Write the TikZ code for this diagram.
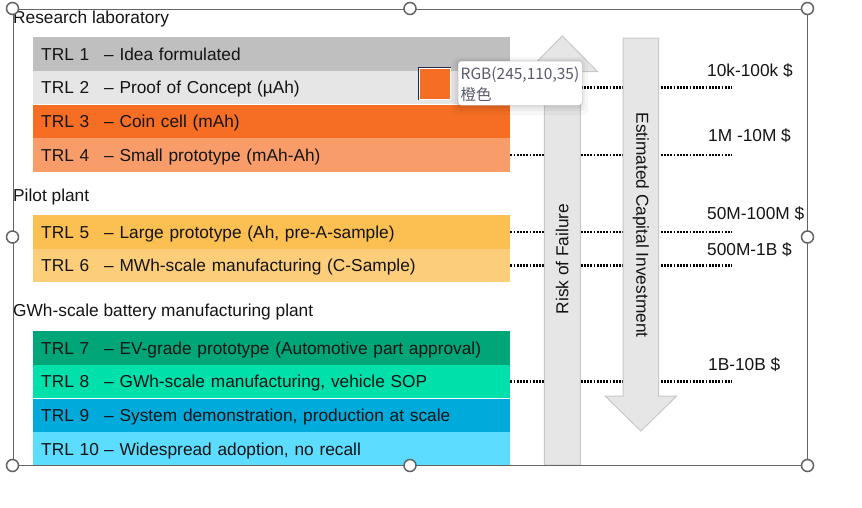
\documentclass[tikz,border=0pt]{standalone}
\usepackage{fontspec}
\setmainfont{Liberation Sans}
\newfontfamily\cjk{Noto Sans CJK SC}
\usepackage{xcolor}
\usepackage{tikz}
\usetikzlibrary{positioning}

\definecolor{ink}{RGB}{20,20,20}
\definecolor{grey1}{RGB}{191,191,191}
\definecolor{grey2}{RGB}{230,230,230}
\definecolor{orange1}{RGB}{245,110,35}
\definecolor{orange2}{RGB}{248,157,106}
\definecolor{yellow1}{RGB}{251,191,82}
\definecolor{yellow2}{RGB}{252,206,122}
\definecolor{green1}{RGB}{0,166,120}
\definecolor{green2}{RGB}{0,224,170}
\definecolor{blue1}{RGB}{0,171,220}
\definecolor{blue2}{RGB}{92,220,255}
\definecolor{arrowfill}{RGB}{230,230,230}
\definecolor{arrowline}{RGB}{200,200,200}
\definecolor{framegrey}{RGB}{100,100,100}
\definecolor{tipgrey}{RGB}{90,90,110}
\definecolor{swatchline}{RGB}{40,40,70}

\newcommand{\trlrow}[2]{\makebox[63pt][l]{TRL #1}– #2}

\begin{document}
\begin{tikzpicture}[x=1pt, y=-1pt,
			every node/.style={font=\fontsize{17.3}{20}\selectfont, text=ink},
			heading/.style={anchor=base west, inner sep=0pt},
			row/.style={rectangle, anchor=north west, inner xsep=8pt, inner ysep=0pt, text width=461pt, minimum height=33.3pt, text height=12.4pt, text depth=0pt, align=left},
			dots/.style={line width=2.3pt, dash pattern=on 1.8pt off 1.4pt, black},
			cost/.style={anchor=base west, inner sep=0pt},
			bigarrow/.style={fill=arrowfill, draw=arrowline, line width=1pt},
			axis/.style={inner sep=0pt},
			selframe/.style={rectangle, draw=framegrey, line width=1pt, minimum width=794pt, minimum height=456pt, inner sep=0pt},
			handle/.style={circle, draw=framegrey, line width=1.5pt, fill=white, minimum size=12pt, inner sep=0pt},
			tipbox/.style={rectangle, rounded corners=3pt, draw=black!22, fill=white, anchor=north west, minimum width=124pt, minimum height=44pt, inner sep=0pt},
			tiptext/.style={anchor=base west, inner sep=0pt, font=\cjk\fontsize{15.5}{18}\selectfont, text=tipgrey},
			swatch/.style={rectangle, anchor=north west, minimum size=31.7pt, inner sep=0pt, fill=orange1, draw=swatchline, line width=1.2pt}
		]
		\useasboundingbox (0,0) rectangle (862,507);

		% Research laboratory
		\node[heading] (lab) at (13,23) {Research laboratory};
		\node[row, fill=grey1] (trl1) at (33,37) {\trlrow{1}{Idea formulated}};
		\node[row, fill=grey2, below=0pt of trl1] (trl2) {\trlrow{2}{Proof of Concept (µAh)}};
		\node[row, fill=orange1, below=0pt of trl2] (trl3) {\trlrow{3}{Coin cell (mAh)}};
		\node[row, fill=orange2, below=0pt of trl3] (trl4) {\trlrow{4}{Small prototype (mAh-Ah)}};

		% Pilot plant
		\node[heading] (pilot) at (13,201.5) {Pilot plant};
		\node[row, fill=yellow1] (trl5) at (33,215) {\trlrow{5}{Large prototype (Ah, pre-A-sample)}};
		\node[row, fill=yellow2, below=0pt of trl5] (trl6) {\trlrow{6}{MWh-scale manufacturing (C-Sample)}};

		% GWh plant
		\node[heading] (gwh) at (13,316.5) {GWh-scale battery manufacturing plant};
		\node[row, fill=green1] (trl7) at (33,331) {\trlrow{7}{EV-grade prototype (Automotive part approval)}};
		\node[row, fill=green2, below=0pt of trl7] (trl8) {\trlrow{8}{GWh-scale manufacturing, vehicle SOP}};
		\node[row, fill=blue1, below=0pt of trl8] (trl9) {\trlrow{9}{System demonstration, production at scale}};
		\node[row, fill=blue2, below=0pt of trl9] (trl10) {\trlrow{10}{Widespread adoption, no recall}};

		% Cost levels
		\coordinate (cap) at (732,0);
		\draw[dots] (trl2.east) -- (trl2.east -| cap);
		\draw[dots] (trl4.east) -- (trl4.east -| cap);
		\draw[dots] (trl5.east) -- (trl5.east -| cap);
		\draw[dots] (trl6.east) -- (trl6.east -| cap);
		\draw[dots] (trl8.east) -- (trl8.east -| cap);
		\node[cost] (cost2) at (707,76) {10k-100k \$};
		\node[cost] (cost4) at (708,141.5) {1M -10M \$};
		\node[cost] (cost5) at (707,219) {50M-100M \$};
		\node[cost] (cost6) at (707,255) {500M-1B \$};
		\node[cost] (cost8) at (708,370.5) {1B-10B \$};

		% Big arrows
		\draw[bigarrow] (544.3,465) -- (544.3,71.7) -- (527,71.7) -- (562.3,36) -- (597.6,71.7) -- (580.3,71.7) -- (580.3,465) -- cycle;
		\node[axis, rotate=90] (risk) at (562.3,259) {Risk of Failure};
		\draw[bigarrow] (623,38) -- (623,396) -- (605,396) -- (640.9,431) -- (676.7,396) -- (658.7,396) -- (658.7,38) -- cycle;
		\node[axis, rotate=-90] (capex) at (640.9,225) {Estimated Capital Investment};

		% Selection frame
		\node[selframe] (sel) at (410,237) {};

		% Colour tooltip
		\fill[black, opacity=0.03, rounded corners=6pt] (452,57) rectangle (588,115);
		\fill[black, opacity=0.04, rounded corners=5pt] (455,59) rectangle (585,111);
		\fill[black, opacity=0.05, rounded corners=4pt] (457,60) rectangle (583,108);
		\node[tipbox] (tooltip) at (458,61) {};
		\node[tiptext] (tiprgb) at (460.5,79.5) {RGB(245,110,35)};
		\node[tiptext] (tipname) at (460.5,100) {橙色};
		\node[swatch] (swatch) at (418.3,67.3) {};
		\draw[white, line width=1pt] ([shift={(1.1pt,-1.1pt)}]swatch.north west) rectangle ([shift={(-1.1pt,1.1pt)}]swatch.south east);

		% Handles
		\node[handle] (h1) at (sel.north west) {};
		\node[handle] (h2) at (sel.north) {};
		\node[handle] (h3) at (sel.north east) {};
		\node[handle] (h4) at (sel.west) {};
		\node[handle] (h5) at (sel.east) {};
		\node[handle] (h6) at (sel.south west) {};
		\node[handle] (h7) at (sel.south) {};
		\node[handle] (h8) at (sel.south east) {};

	\end{tikzpicture}
\end{document}
